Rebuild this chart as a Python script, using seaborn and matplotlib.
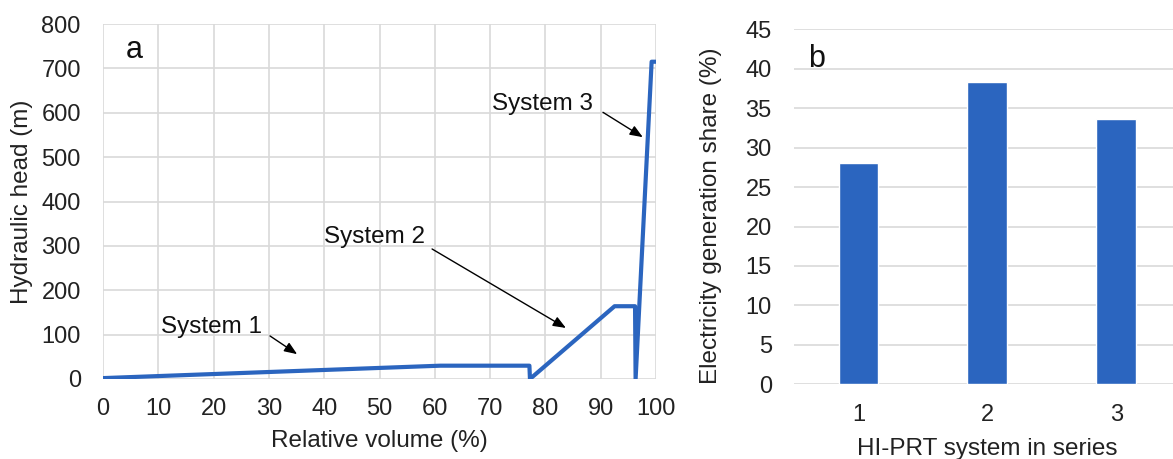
import matplotlib
matplotlib.use("Agg")
import matplotlib.pyplot as plt
import seaborn as sns
import pandas as pd

# ---- data ----
relative_volume = [0, 61, 77.1, 77.2, 92.5, 96.2, 96.3, 99.2, 100]
hydraulic_head = [2, 30, 30, 0, 164, 164, 0, 715, 715]

systems = ["1", "2", "3"]
generation_share = [28.1, 38.3, 33.6]

annotations = [
    ("System 1", (10.5, 117), (30.2, 97), (35.1, 56)),
    ("System 2", (40.0, 320), (59.5, 293), (83.7, 115)),
    ("System 3", (70.3, 619), (90.4, 601), (97.6, 545)),
]

sns.set_theme(style="white")
plt.rcParams["font.family"] = ["Liberation Sans", "DejaVu Sans"]

BLUE = "#2B65BF"
GRID = "#D9D9D9"
FS_TICK = 17
FS = 17.5

fig = plt.figure(figsize=(11.73, 4.59), dpi=100)
ax1 = fig.add_axes([0.0878, 0.1743, 0.4715, 0.7734])
ax2 = fig.add_axes([0.6769, 0.1627, 0.3299, 0.7735])

# ---- panel a ----
df_line = pd.DataFrame({"volume": relative_volume, "head": hydraulic_head})
sns.lineplot(data=df_line, x="volume", y="head", sort=False, estimator=None,
             color=BLUE, linewidth=3.0, ax=ax1, zorder=3)
ax1.set_xlim(0, 100)
ax1.set_ylim(0, 800)
ax1.set_xticks(range(0, 101, 10))
ax1.set_yticks(range(0, 801, 100))
ax1.grid(True, color=GRID, linewidth=1.2)
for s in ax1.spines.values():
    s.set_visible(False)
ax1.tick_params(axis="both", length=0, labelsize=FS_TICK, colors="#222222")
ax1.tick_params(axis="y", pad=16)
ax1.tick_params(axis="x", pad=14)
ax1.set_xlabel("Relative volume (%)", fontsize=FS, labelpad=7, color="#222222")
ax1.set_ylabel("Hydraulic head (m)", fontsize=FS, color="#222222")
ax1.yaxis.set_label_coords(-0.127, 0.5)
ax1.text(5.6, 741, "a", fontsize=22, ha="center", va="center", color="#111111")

for label, tpos, tail, head in annotations:
    ax1.text(tpos[0], tpos[1], label, fontsize=FS, ha="left", va="center", color="#111111")
    ax1.annotate("", xy=head, xytext=tail,
                 arrowprops=dict(arrowstyle="-|>,head_length=0.55,head_width=0.22",
                                 mutation_scale=14, color="black", lw=1.0,
                                 shrinkA=0, shrinkB=0))

# ---- panel b ----
df_bar = pd.DataFrame({"system": systems, "share": generation_share})
sns.barplot(data=df_bar, x="system", y="share", color=BLUE, saturation=1,
            width=0.31, ax=ax2, zorder=3)
ax2.set_xlim(-0.5, 2.5)
ax2.set_ylim(0, 45)
ax2.set_yticks(range(0, 46, 5))
ax2.yaxis.grid(True, color=GRID, linewidth=1.2)
ax2.xaxis.grid(False)
for s in ax2.spines.values():
    s.set_visible(False)
ax2.tick_params(axis="both", length=0, labelsize=FS_TICK, colors="#222222")
ax2.tick_params(axis="y", pad=16)
ax2.tick_params(axis="x", pad=14)
ax2.set_xlabel("HI-PRT system in series", fontsize=FS, labelpad=9, color="#222222")
ax2.set_ylabel("Electricity generation share (%)", fontsize=FS, color="#222222")
ax2.yaxis.set_label_coords(-0.186, 0.474)
ax2.text(0.057, 0.915, "b", transform=ax2.transAxes, fontsize=22,
         ha="center", va="center", color="#111111")

fig.savefig("out.png", dpi=100)
